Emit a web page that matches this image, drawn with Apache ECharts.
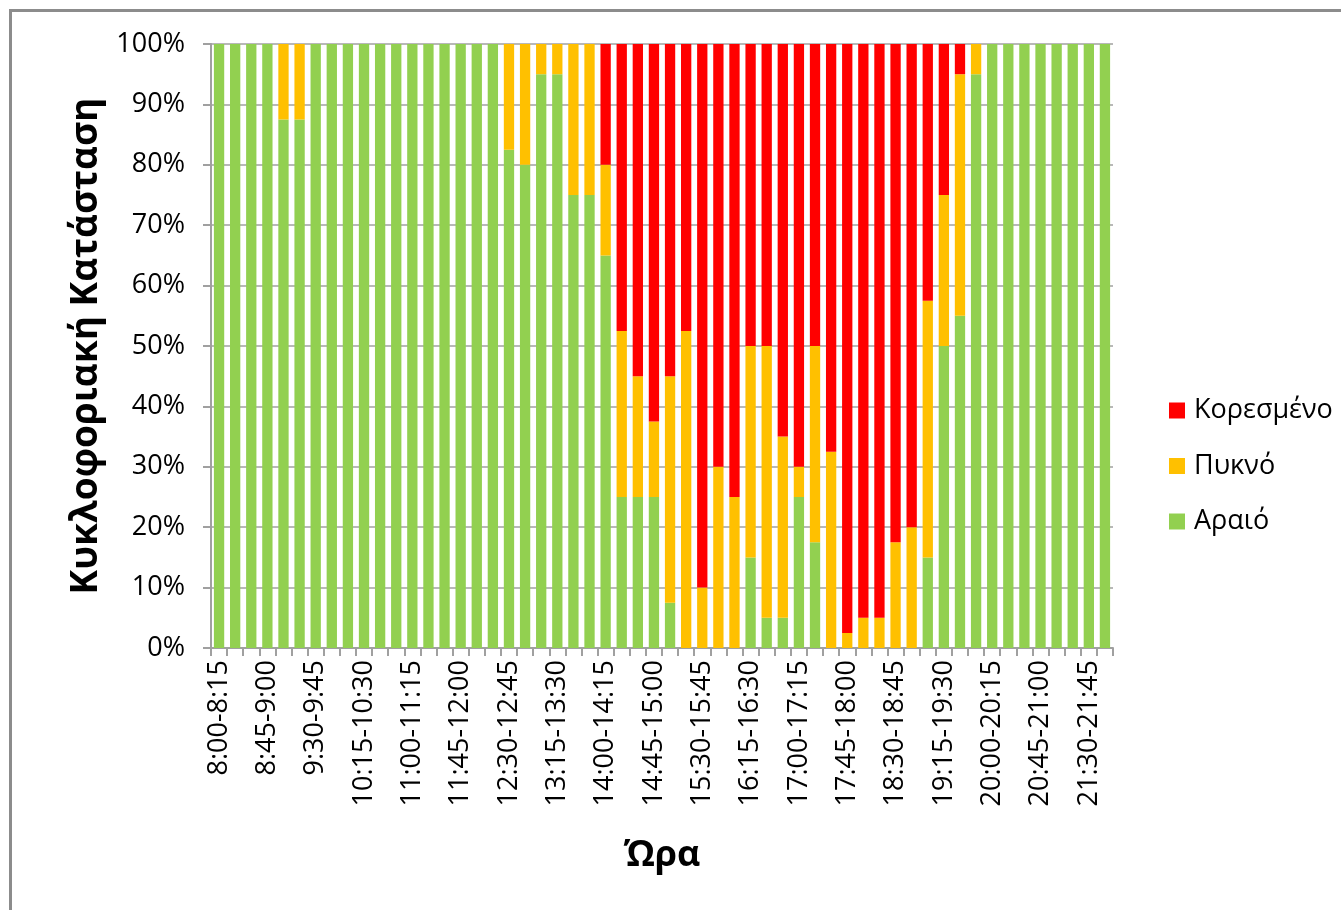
<!DOCTYPE html>
<html>
<head>
<meta charset="utf-8">
<script src="https://cdn.jsdelivr.net/npm/echarts@6/dist/echarts.min.js"></script>
<style>
  html, body { margin: 0; padding: 0; background: #ffffff; }
  #chart { width: 1341px; height: 910px; }
</style>
</head>
<body>
<div id="chart"></div>
<script>
const categories = [
  "8:00-8:15","8:15-8:30","8:30-8:45","8:45-9:00","9:00-9:15","9:15-9:30","9:30-9:45","9:45-10:00",
  "10:00-10:15","10:15-10:30","10:30-10:45","10:45-11:00","11:00-11:15","11:15-11:30","11:30-11:45","11:45-12:00",
  "12:00-12:15","12:15-12:30","12:30-12:45","12:45-13:00","13:00-13:15","13:15-13:30","13:30-13:45","13:45-14:00",
  "14:00-14:15","14:15-14:30","14:30-14:45","14:45-15:00","15:00-15:15","15:15-15:30","15:30-15:45","15:45-16:00",
  "16:00-16:15","16:15-16:30","16:30-16:45","16:45-17:00","17:00-17:15","17:15-17:30","17:30-17:45","17:45-18:00",
  "18:00-18:15","18:15-18:30","18:30-18:45","18:45-19:00","19:00-19:15","19:15-19:30","19:30-19:45","19:45-20:00",
  "20:00-20:15","20:15-20:30","20:30-20:45","20:45-21:00","21:00-21:15","21:15-21:30","21:30-21:45","21:45-22:00"
];

// Αραιό (green)
const araio = [
  100,100,100,100,87.5,87.5,100,100,
  100,100,100,100,100,100,100,100,
  100,100,82.5,80,95,95,75,75,
  65,25,25,25,7.5,0,0,0,
  0,15,5,5,25,17.5,0,0,
  0,0,0,0,15,50,55,95,
  100,100,100,100,100,100,100,100
];

// Πυκνό (yellow)
const pykno = [
  0,0,0,0,12.5,12.5,0,0,
  0,0,0,0,0,0,0,0,
  0,0,17.5,20,5,5,25,25,
  15,27.5,20,12.5,37.5,52.5,10,30,
  25,35,45,30,5,32.5,32.5,2.5,
  5,5,17.5,20,42.5,25,40,5,
  0,0,0,0,0,0,0,0
];

// Κορεσμένο (red)
const koresmeno = [
  0,0,0,0,0,0,0,0,
  0,0,0,0,0,0,0,0,
  0,0,0,0,0,0,0,0,
  20,47.5,55,62.5,55,47.5,90,70,
  75,50,50,65,70,50,67.5,97.5,
  95,95,82.5,80,42.5,25,5,0,
  0,0,0,0,0,0,0,0
];

const yTicks = [0,10,20,30,40,50,60,70,80,90,100];

const FONT = "'Open Sans', 'Noto Sans', sans-serif";
const chart = echarts.init(document.getElementById('chart'));

const barCommon = { type: 'bar', stack: 'total', barCategoryGap: '36%' };

chart.setOption({
  animation: false,
  backgroundColor: '#ffffff',
  graphic: [{
    type: 'rect',
    shape: { x: 10.5, y: 10.5, width: 1500, height: 1200 },
    style: { fill: 'none', stroke: '#8c8c8c', lineWidth: 3 },
    silent: true
  }],
  grid: { left: 211, right: 228, top: 44, bottom: 262 },
  legend: {
    orient: 'vertical',
    left: 1164,
    top: 392,
    data: ['Κορεσμένο', 'Πυκνό', 'Αραιό'],
    icon: 'rect',
    itemWidth: 16,
    itemHeight: 16,
    itemGap: 28.5,
    textStyle: { fontFamily: FONT, fontSize: 27, color: '#000', lineHeight: 27, padding: [0, 0, 0, 4] }
  },
  xAxis: {
    type: 'category',
    data: categories,
    name: 'Ώρα',
    nameLocation: 'middle',
    nameGap: 190,
    nameTextStyle: { fontFamily: FONT, fontSize: 36, fontWeight: 'bold', color: '#000' },
    axisLine: { lineStyle: { color: '#a0a0a0', width: 2 } },
    axisTick: { show: true, interval: 0, alignWithLabel: false, length: 8, lineStyle: { color: '#a0a0a0', width: 2 } },
    axisLabel: { interval: 2, rotate: 90, margin: 12, fontFamily: FONT, fontSize: 27, color: '#000' },
    splitLine: { show: false }
  },
  yAxis: {
    type: 'value',
    min: yTicks[0],
    max: yTicks[yTicks.length - 1],
    interval: 10,
    name: 'Κυκλοφοριακή Κατάσταση',
    nameLocation: 'middle',
    nameGap: 106,
    nameRotate: 90,
    nameTextStyle: { fontFamily: FONT, fontSize: 37, fontWeight: 'bold', color: '#000' },
    axisLine: { show: true, lineStyle: { color: '#a0a0a0', width: 2 } },
    axisTick: { show: true, length: 8, lineStyle: { color: '#a0a0a0', width: 2 } },
    axisLabel: { formatter: '{value}%', margin: 26, fontFamily: FONT, fontSize: 27, color: '#000' },
    splitLine: { show: true, lineStyle: { color: '#a0a0a0', width: 1.5 } }
  },
  series: [
    Object.assign({}, barCommon, { name: 'Αραιό', data: araio, itemStyle: { color: '#92D050' } }),
    Object.assign({}, barCommon, { name: 'Πυκνό', data: pykno, itemStyle: { color: '#FFC000' } }),
    Object.assign({}, barCommon, { name: 'Κορεσμένο', data: koresmeno, itemStyle: { color: '#FF0000' } })
  ]
});
</script>
</body>
</html>
